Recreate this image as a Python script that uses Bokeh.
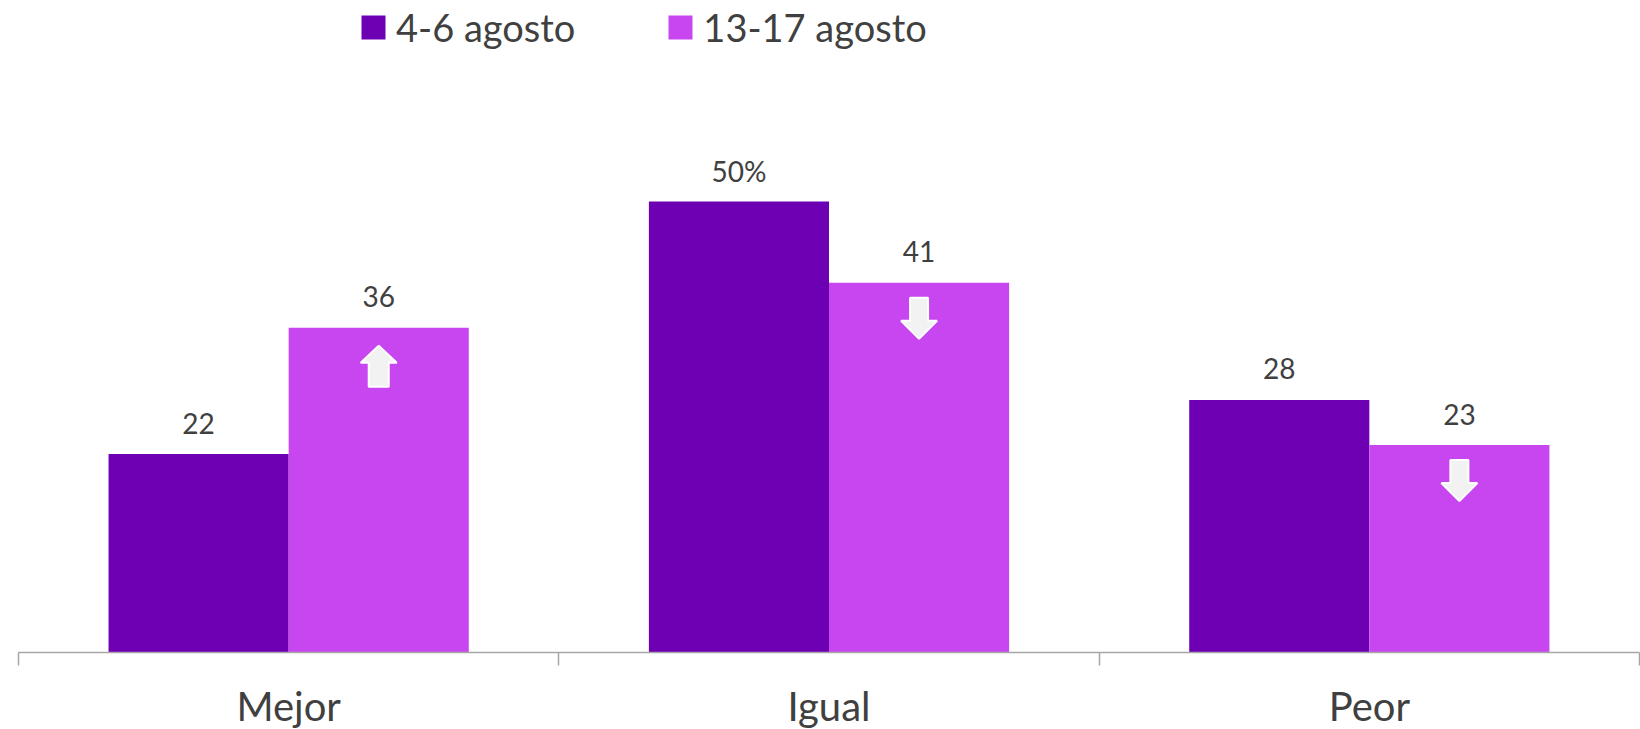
from bokeh.plotting import figure
from bokeh.models import Range1d, FixedTicker, Legend, LegendItem
from bokeh.core.properties import value
from bokeh.embed import file_html
from bokeh.resources import INLINE

categories = ["Mejor", "Igual", "Peor"]
series_names = ["4-6 agosto", "13-17 agosto"]
values_aug4 = [22, 50, 28]
values_aug13 = [36, 41, 23]
labels_aug4 = ["22", "50%", "28"]
labels_aug13 = ["36", "41", "23"]

DARK = "#6E00B4"
LIGHT = "#C846F0"
TEXT = "#404040"
FONT = "Lato"

W, H = 1640, 729
BL, BR = 18, 1
FW = W - BL - BR
FH = 652
PX_PER_UNIT = 9.02
YMAX = FH / PX_PER_UNIT
n = len(categories)
PX_PER_X = FW / n

p = figure(width=W, height=H, frame_width=FW, frame_height=FH,
           x_range=Range1d(0, n), y_range=Range1d(0, YMAX),
           output_backend="svg", toolbar_location=None,
           min_border_left=BL, min_border_right=BR, min_border_top=0,
           min_border_bottom=H - FH)
p.outline_line_color = None
p.grid.visible = False
p.yaxis.visible = False
p.background_fill_color = "white"
p.border_fill_color = "white"

centers = [i + 0.5 for i in range(n)]
x_dark = [c - 1 / 6 for c in centers]
x_light = [c + 1 / 6 for c in centers]

r1 = p.vbar(x=x_dark, top=values_aug4, width=1 / 3, bottom=0,
            fill_color=DARK, line_color=None)
r2 = p.vbar(x=x_light, top=values_aug13, width=1 / 3, bottom=0,
            fill_color=LIGHT, line_color=None)

p.text(x=x_dark, y=values_aug4, text=labels_aug4, text_align="center",
       text_baseline="middle", y_offset=-31, text_font=value(FONT),
       text_font_size="28px", text_color=TEXT)
p.text(x=x_light, y=values_aug13, text=labels_aug13, text_align="center",
       text_baseline="middle", y_offset=-31, text_font=value(FONT),
       text_font_size="28px", text_color=TEXT)

# change arrows on the second series
xs, ys = [], []
for xc, v_old, v_new in zip(x_light, values_aug4, values_aug13):
    dx = lambda px: px / PX_PER_X
    dy = lambda px: px / PX_PER_UNIT
    if v_new > v_old:
        tip, base, end = 18, 35, 59
        pts = [(0, tip), (18, base), (10, base), (10, end), (-10, end), (-10, base), (-18, base)]
    else:
        top, hs, tip = 15, 38, 56
        pts = [(-9, top), (9, top), (9, hs), (18, hs), (0, tip), (-18, hs), (-9, hs)]
    xs.append([xc + dx(a) for a, b in pts])
    ys.append([v_new - dy(b) for a, b in pts])
p.patches(xs=xs, ys=ys, fill_color="#F2F2F2", line_color="white", line_width=2)

ax = p.xaxis[0]
ax.ticker = FixedTicker(ticks=centers, minor_ticks=[float(i) for i in range(n + 1)])
ax.major_label_overrides = {c: lab for c, lab in zip(centers, categories)}
ax.major_tick_line_color = None
ax.major_tick_out = 13
ax.major_tick_in = 0
ax.minor_tick_out = 13
ax.minor_tick_in = 0
ax.minor_tick_line_color = "#A6A6A6"
ax.minor_tick_line_width = 1.5
ax.axis_line_color = "#A6A6A6"
ax.axis_line_width = 1.5
ax.major_label_text_font = FONT
ax.major_label_text_font_size = "40px"
ax.major_label_text_color = TEXT
ax.major_label_standoff = 16

legend = Legend(items=[LegendItem(label=series_names[0], renderers=[r1]),
                       LegendItem(label=series_names[1], renderers=[r2])],
                orientation="horizontal", location=(340, 602),
                glyph_width=30, glyph_height=30, label_standoff=8,
                spacing=90, padding=0, margin=0,
                label_text_font=FONT, label_text_font_size="38px",
                label_text_color=TEXT, border_line_color=None,
                background_fill_alpha=0)
p.add_layout(legend)

open("out.html", "w").write(file_html(p, INLINE))
